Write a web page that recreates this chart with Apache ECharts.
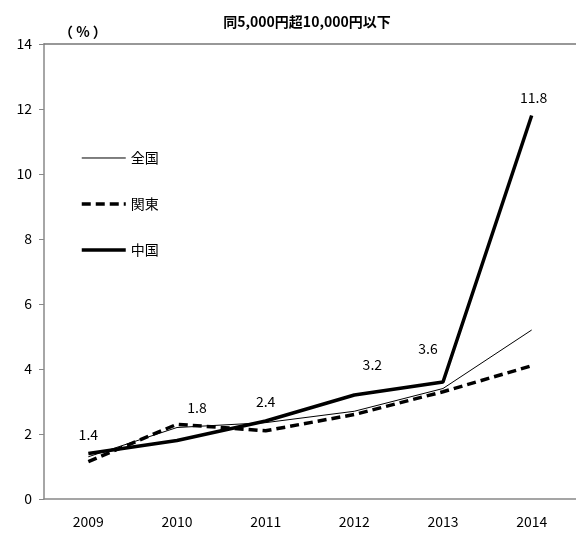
<!DOCTYPE html>
<html>
<head>
    <meta charset="utf-8">
    <title>同5,000円超10,000円以下</title>
    <style>
    html, body { margin: 0; padding: 0; background: #fff; }
    </style>
    <script type="text/javascript" src="https://cdn.jsdelivr.net/npm/echarts@6/dist/echarts.min.js"></script>
</head>
<body>
    <div id="main" style="width:576px;height:538px"></div>
    <script>
    var years = ['2009', '2010', '2011', '2012', '2013', '2014'];
    var zenkoku = [1.3, 2.2, 2.35, 2.7, 3.4, 5.2];   // 全国
    var kanto = [1.15, 2.3, 2.1, 2.6, 3.3, 4.1];     // 関東
    var chugoku = [1.4, 1.8, 2.4, 3.2, 3.6, 11.8];   // 中国
    var yTicks = [0, 2, 4, 6, 8, 10, 12, 14];

    var font = '"Noto Sans CJK JP", "Noto Sans", sans-serif';
    // ラベル位置の微調整（中国）
    var labelShift = [[0, -7], [20, -21], [0, -7], [18, -18], [-15, -21], [2, -6]];

    var option = {
        backgroundColor: '#fff',
        animation: false,
        textStyle: { fontFamily: font },
        title: [{
            text: '同5,000円超10,000円以下',
            left: 302,
            textAlign: 'center',
            top: 10,
            textStyle: { fontSize: 14, fontWeight: 'bold', color: '#000', fontFamily: font }
        }, {
            text: '（ % ）',
            left: 54,
            top: 20,
            textStyle: { fontSize: 14, fontWeight: 'bold', color: '#000', fontFamily: '"Noto Sans CJK JP"' }
        }],
        legend: {
            orient: 'vertical',
            left: 75,
            top: 146,
            itemWidth: 44,
            itemHeight: 14,
            itemGap: 32,
            itemStyle: { opacity: 0 },
            textStyle: { fontSize: 14, color: '#000', fontFamily: font },
            data: [
                { name: '全国', lineStyle: { width: 1 } },
                { name: '関東', lineStyle: { width: 3.5, type: [9, 5] } },
                { name: '中国', lineStyle: { width: 3.5 } }
            ]
        },
        grid: { left: 44, right: 0, top: 44, bottom: 39 },
        xAxis: [{
            type: 'category',
            data: years,
            boundaryGap: true,
            axisLine: { lineStyle: { color: '#888', width: 1.5 } },
            axisTick: { lineStyle: { color: '#888' }, length: 5 },
            axisLabel: { fontSize: 14, color: '#000', margin: 16, fontFamily: font },
            splitLine: { show: false }
        }, {
            type: 'category',
            data: years,
            position: 'top',
            axisLine: { lineStyle: { color: '#777', width: 1.5 } },
            axisTick: { show: false },
            axisLabel: { show: false }
        }],
        yAxis: {
            type: 'value',
            min: yTicks[0],
            max: yTicks[yTicks.length - 1],
            interval: 2,
            axisLine: { show: true, lineStyle: { color: '#888', width: 1.5 } },
            axisTick: { show: true, inside: false, length: 5, lineStyle: { color: '#888' } },
            axisLabel: { fontSize: 14, color: '#000', margin: 12, fontFamily: font },
            splitLine: { show: false }
        },
        series: [{
            name: '全国',
            type: 'line',
            data: zenkoku,
            symbol: 'circle',
            symbolSize: 0,
            lineStyle: { color: '#000', width: 1 },
            itemStyle: { color: '#000' },
            z: 2
        }, {
            name: '関東',
            type: 'line',
            data: kanto,
            symbol: 'circle',
            symbolSize: 0,
            lineStyle: { color: '#000', width: 3.5, type: [9, 5] },
            itemStyle: { color: '#000' },
            z: 3
        }, {
            name: '中国',
            type: 'line',
            symbol: 'circle',
            symbolSize: 0,
            showSymbol: true,
            data: chugoku.map(function (v, i) {
                return {
                    value: v,
                    label: { offset: labelShift[i] }
                };
            }),
            lineStyle: { color: '#000', width: 3.5 },
            itemStyle: { color: '#000' },
            label: {
                show: true,
                position: 'top',
                distance: 5,
                fontSize: 14,
                color: '#000',
                fontFamily: font,
                formatter: function (p) { return p.value.toFixed(1); }
            },
            z: 4
        }]
    };

    var myChart = echarts.init(document.getElementById('main'));
    myChart.setOption(option);
    </script>
</body>
</html>
